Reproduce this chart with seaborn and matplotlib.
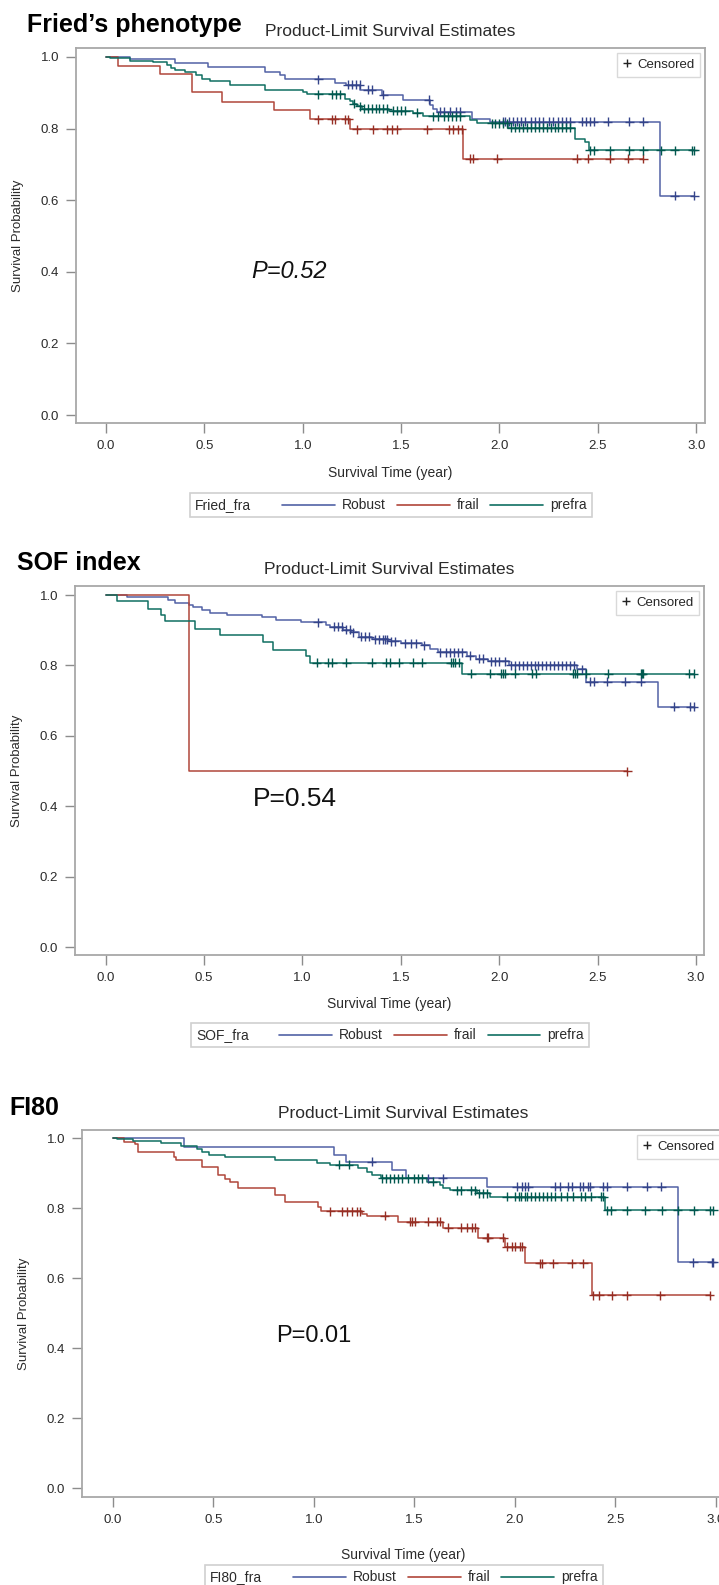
import numpy as np
import pandas as pd
import matplotlib.pyplot as plt
import seaborn as sns
from matplotlib.lines import Line2D
from matplotlib.offsetbox import AnchoredOffsetbox, HPacker, TextArea, DrawingArea

groups = ['Robust', 'frail', 'prefra']
line_colors = ['#5262A6', '#B0463A', '#0F6F62']
mark_colors = ['#34448A', '#962E24', '#01584F']

# ---- Fried's phenotype ----
fried_robust_t = [0.12, 0.35, 0.52, 0.81, 0.885, 0.91, 1.164, 1.22, 1.291, 1.402, 1.512, 1.647, 1.664, 1.681, 1.859, 1.952, 2.817]
fried_robust_s = [0.993, 0.982, 0.973, 0.959, 0.950, 0.938, 0.928, 0.922, 0.908, 0.894, 0.880, 0.866, 0.856, 0.847, 0.828, 0.819, 0.612]
fried_robust_c = [1.08, 1.23, 1.25, 1.27, 1.29, 1.33, 1.35, 1.41, 1.64, 1.70, 1.72, 1.75, 1.78, 1.80, 2.02, 2.03, 2.05, 2.07,
                  2.09, 2.11, 2.13, 2.16, 2.18, 2.20, 2.22, 2.25, 2.27, 2.30, 2.32, 2.34, 2.36, 2.42, 2.44, 2.46, 2.48,
                  2.55, 2.66, 2.73, 2.89, 2.99]
fried_frail_t = [0.063, 0.275, 0.436, 0.588, 0.854, 1.037, 1.24, 1.816]
fried_frail_s = [0.975, 0.952, 0.901, 0.875, 0.852, 0.826, 0.798, 0.716]
fried_frail_c = [1.079, 1.147, 1.164, 1.215, 1.232, 1.274, 1.359, 1.427, 1.452, 1.478, 1.633, 1.745, 1.765, 1.788, 1.808,
                 1.850, 1.868, 1.990, 2.393, 2.452, 2.562, 2.656, 2.732]
fried_prefra_t = [0.02, 0.12, 0.24, 0.31, 0.33, 0.35, 0.40, 0.46, 0.49, 0.53, 0.63, 0.81, 1.00, 1.02, 1.215, 1.24, 1.257,
                  1.274, 1.30, 1.44, 1.56, 1.61, 1.85, 1.884, 2.045, 2.384, 2.435, 2.456]
fried_prefra_s = [0.996, 0.990, 0.985, 0.978, 0.970, 0.965, 0.959, 0.950, 0.938, 0.932, 0.922, 0.909, 0.902, 0.896, 0.884,
                  0.877, 0.870, 0.863, 0.856, 0.850, 0.844, 0.835, 0.824, 0.815, 0.803, 0.772, 0.763, 0.740]
fried_prefra_c = [1.08, 1.15, 1.17, 1.19, 1.26, 1.29, 1.31, 1.33, 1.35, 1.37, 1.39, 1.41, 1.43, 1.46, 1.48, 1.50, 1.52, 1.58,
                  1.66, 1.69, 1.72, 1.74, 1.76, 1.78, 1.80, 1.96, 1.98, 2.00, 2.02, 2.04, 2.06, 2.08, 2.10, 2.12, 2.14,
                  2.16, 2.18, 2.20, 2.22, 2.24, 2.26, 2.28, 2.30, 2.32, 2.34, 2.36, 2.46, 2.48, 2.56, 2.66, 2.73, 2.82,
                  2.89, 2.98, 2.99]

# ---- SOF index ----
sof_robust_t = [0.109, 0.319, 0.351, 0.425, 0.446, 0.488, 0.530, 0.615, 0.794, 0.868, 0.994, 1.121, 1.142, 1.205, 1.247,
                1.289, 1.353, 1.437, 1.501, 1.606, 1.648, 1.690, 1.838, 1.880, 1.943, 2.049, 2.397, 2.439, 2.809]
sof_robust_s = [0.993, 0.986, 0.977, 0.972, 0.965, 0.958, 0.950, 0.943, 0.937, 0.929, 0.923, 0.915, 0.910, 0.901, 0.894,
                0.882, 0.875, 0.869, 0.863, 0.857, 0.847, 0.838, 0.828, 0.819, 0.812, 0.800, 0.789, 0.753, 0.682]
sof_robust_c = [1.078, 1.16, 1.18, 1.20, 1.22, 1.24, 1.26, 1.30, 1.32, 1.34, 1.37, 1.39, 1.41, 1.42, 1.43, 1.45, 1.47, 1.52,
                1.55, 1.58, 1.62, 1.70, 1.73, 1.75, 1.77, 1.79, 1.81, 1.85, 1.90, 1.92, 1.96, 1.98, 2.00, 2.03, 2.06,
                2.08, 2.10, 2.12, 2.14, 2.16, 2.18, 2.20, 2.22, 2.24, 2.26, 2.28, 2.30, 2.32, 2.34, 2.36, 2.38, 2.42,
                2.46, 2.48, 2.55, 2.64, 2.72, 2.89, 2.97, 2.99]
sof_frail_t = [0.425]
sof_frail_s = [0.5]
sof_frail_c = [2.65]
sof_prefra_t = [0.056, 0.214, 0.28, 0.303, 0.456, 0.583, 0.80, 0.85, 1.02, 1.04, 1.81]
sof_prefra_s = [0.982, 0.959, 0.943, 0.925, 0.904, 0.885, 0.866, 0.845, 0.828, 0.807, 0.776]
sof_prefra_c = [1.074, 1.131, 1.152, 1.222, 1.353, 1.427, 1.448, 1.490, 1.564, 1.606, 1.754, 1.765, 1.775, 1.796, 1.859,
                1.954, 2.007, 2.018, 2.028, 2.080, 2.165, 2.186, 2.376, 2.386, 2.397, 2.439, 2.555, 2.72, 2.724, 2.73,
                2.967, 2.988]

# ---- FI80 ----
fi_robust_t = [0.351, 1.099, 1.161, 1.389, 1.458, 1.859, 2.813]
fi_robust_s = [0.973, 0.951, 0.932, 0.909, 0.885, 0.861, 0.645]
fi_robust_c = [1.287, 1.569, 1.640, 2.008, 2.033, 2.050, 2.066, 2.199, 2.224, 2.265, 2.282, 2.323, 2.340, 2.365, 2.373,
               2.439, 2.456, 2.556, 2.655, 2.729, 2.887, 2.978, 2.987]
fi_frail_t = [0.054, 0.111, 0.123, 0.305, 0.316, 0.442, 0.524, 0.556, 0.582, 0.624, 0.806, 0.856, 1.022, 1.033, 1.237,
              1.262, 1.420, 1.643, 1.817, 1.950, 2.050, 2.382]
fi_frail_s = [0.990, 0.982, 0.961, 0.947, 0.937, 0.918, 0.894, 0.883, 0.873, 0.856, 0.838, 0.818, 0.804, 0.791, 0.782,
              0.778, 0.761, 0.744, 0.715, 0.689, 0.642, 0.551]
fi_frail_c = [1.080, 1.138, 1.163, 1.187, 1.212, 1.229, 1.353, 1.478, 1.486, 1.502, 1.569, 1.610, 1.627, 1.668, 1.734,
              1.759, 1.784, 1.801, 1.859, 1.867, 1.942, 1.958, 1.983, 2.000, 2.025, 2.033, 2.124, 2.133, 2.191, 2.282,
              2.340, 2.390, 2.420, 2.481, 2.556, 2.722, 2.970]
fi_prefra_t = [0.02, 0.10, 0.237, 0.339, 0.419, 0.442, 0.476, 0.556, 0.807, 1.013, 1.081, 1.218, 1.264, 1.287, 1.332,
               1.561, 1.627, 1.643, 1.677, 1.809, 1.875, 2.448]
fi_prefra_s = [0.996, 0.992, 0.986, 0.977, 0.970, 0.961, 0.951, 0.945, 0.937, 0.930, 0.923, 0.914, 0.904, 0.895, 0.885,
               0.875, 0.866, 0.858, 0.851, 0.842, 0.832, 0.794]
fi_prefra_c = [1.127, 1.172, 1.34, 1.36, 1.38, 1.40, 1.42, 1.44, 1.47, 1.50, 1.52, 1.54, 1.59, 1.71, 1.73, 1.78, 1.80,
               1.82, 1.84, 1.86, 1.96, 2.00, 2.02, 2.03, 2.05, 2.06, 2.08, 2.10, 2.12, 2.14, 2.16, 2.18, 2.20, 2.23,
               2.26, 2.29, 2.33, 2.35, 2.38, 2.43, 2.44, 2.46, 2.48, 2.556, 2.647, 2.73, 2.81, 2.89, 2.97, 2.987]

titles = ['Fried\u2019s phenotype', 'SOF index', 'FI80']
legend_vars = ['Fried_fra', 'SOF_fra', 'FI80_fra']
pvalues = ['P=0.52', 'P=0.54', 'P=0.01']

panel_data = [
    [(fried_robust_t, fried_robust_s, fried_robust_c), (fried_frail_t, fried_frail_s, fried_frail_c),
     (fried_prefra_t, fried_prefra_s, fried_prefra_c)],
    [(sof_robust_t, sof_robust_s, sof_robust_c), (sof_frail_t, sof_frail_s, sof_frail_c),
     (sof_prefra_t, sof_prefra_s, sof_prefra_c)],
    [(fi_robust_t, fi_robust_s, fi_robust_c), (fi_frail_t, fi_frail_s, fi_frail_c),
     (fi_prefra_t, fi_prefra_s, fi_prefra_c)],
]


def km_tables(curves):
    lines, cens = [], []
    for g, (ev_t, ev_s, c_t) in zip(groups, curves):
        end = max(ev_t + c_t)
        t = np.array([0.0] + ev_t + [end])
        s = np.array([1.0] + ev_s + [ev_s[-1]])
        lines.append(pd.DataFrame({'time': t, 'surv': s, 'group': g}))
        idx = np.searchsorted(t, c_t, side='right') - 1
        cens.append(pd.DataFrame({'time': c_t, 'surv': s[idx], 'group': g}))
    return pd.concat(lines, ignore_index=True), pd.concat(cens, ignore_index=True)


sns.set_style('ticks')
plt.rcParams['font.family'] = ['Liberation Sans', 'DejaVu Sans']

W, H = 719, 1585
fig = plt.figure(figsize=(W / 100, H / 100), dpi=100)
fig.patch.set_facecolor('white')

# layout in pixels: frame (l, t, r, b), limits, heading positions, xlabel offset, legend centre, p-text
layout = [
    dict(frame=(76, 48, 705, 423), xlim=(-0.1525, 3.045), ylim=(-0.0223, 1.0251),
         title=(27, 25), head_y=32, xlab=50, leg=(391, 505), ptxt=(0.93, 0.40), pit=True, psize=17),
    dict(frame=(75, 586, 704, 955), xlim=(-0.155, 3.041), ylim=(-0.0227, 1.0256),
         title=(17, 563), head_y=570, xlab=49, leg=(390, 1035), ptxt=(0.96, 0.42), pit=False, psize=19),
    dict(frame=(82, 1130, 725, 1497), xlim=(-0.154, 3.045), ylim=(-0.0257, 1.0229),
         title=(9, 1108), head_y=1114, xlab=58, leg=(404, 1577), ptxt=(1.0, 0.434), pit=False, psize=17),
]

frame_col = '#A8A8A8'
text_col = '#2b2b2b'

for k, lay in enumerate(layout):
    l, t, r, b = lay['frame']
    ax = fig.add_axes([l / W, 1 - b / H, (r - l) / W, (b - t) / H])
    df_lines, df_cens = km_tables(panel_data[k])
    sns.lineplot(data=df_lines, x='time', y='surv', hue='group', palette=dict(zip(groups, line_colors)),
                 estimator=None, drawstyle='steps-post', lw=1.1, legend=False, ax=ax)
    sns.scatterplot(data=df_cens, x='time', y='surv', hue='group', palette=dict(zip(groups, mark_colors)),
                    marker='+', s=42, linewidth=1.0, legend=False, ax=ax, zorder=3)
    ax.set_xlim(*lay['xlim'])
    ax.set_ylim(*lay['ylim'])
    ax.set_xticks(np.arange(0, 3.01, 0.5))
    ax.set_yticks(np.arange(0, 1.01, 0.2))
    ax.xaxis.set_major_formatter(plt.FormatStrFormatter('%.1f'))
    ax.yaxis.set_major_formatter(plt.FormatStrFormatter('%.1f'))
    ax.tick_params(axis='both', color='#8c8c8c', length=7, width=1, labelsize=9.5,
                   labelcolor=text_col, pad=5)
    for sp in ax.spines.values():
        sp.set_color(frame_col)
        sp.set_linewidth(1.3)
    ax.set_xlabel('Survival Time (year)', fontsize=10, color=text_col)
    ax.set_ylabel('Survival Probability', fontsize=9.5, color=text_col)
    ax.xaxis.set_label_coords(0.5, -lay['xlab'] / (b - t))
    ax.xaxis.label.set_va('center')
    ax.yaxis.set_label_coords(-58 / (r - l), 0.5)
    ax.yaxis.label.set_va('center')

    # censored key
    ax.legend(handles=[Line2D([], [], ls='none', marker='+', color='#222222', markersize=6, mew=1)],
              labels=['Censored'], loc='upper right', fontsize=9.5, handlelength=0.6, handletextpad=0.5,
              borderpad=0.45, borderaxespad=0.35, frameon=True, fancybox=False, edgecolor='#d0d0d0')

    # p-value
    ax.text(lay['ptxt'][0], lay['ptxt'][1], pvalues[k], fontsize=lay['psize'], ha='center', va='center',
            style='italic' if lay['pit'] else 'normal', color='#111111')

    # headings
    fig.text(lay['title'][0] / W, 1 - lay['title'][1] / H, titles[k], fontsize=18, fontweight='bold',
             ha='left', va='center', color='black')
    fig.text((l + r) / 2 / W, 1 - lay['head_y'] / H, 'Product-Limit Survival Estimates', fontsize=12.5,
             ha='center', va='center', color=text_col)

    # group legend below the plot
    items = [TextArea(legend_vars[k], textprops=dict(fontsize=10, color=text_col)),
             DrawingArea(6, 8)]
    for g, c in zip(groups, line_colors):
        da = DrawingArea(38, 8)
        da.add_artist(Line2D([0, 38], [4, 4], color=c, lw=1.2))
        items.append(HPacker(children=[da, TextArea(g, textprops=dict(fontsize=10, color=text_col))],
                             align='center', pad=0, sep=5))
    box = HPacker(children=items, align='center', pad=0, sep=8)
    anch = AnchoredOffsetbox(loc='center', child=box, pad=0.35, borderpad=0, frameon=True,
                             bbox_to_anchor=(lay['leg'][0] / W, 1 - lay['leg'][1] / H),
                             bbox_transform=fig.transFigure)
    anch.patch.set_edgecolor('#d0d0d0')
    anch.patch.set_linewidth(1.2)
    fig.add_artist(anch)

fig.savefig('out.png', dpi=100, facecolor='white')
